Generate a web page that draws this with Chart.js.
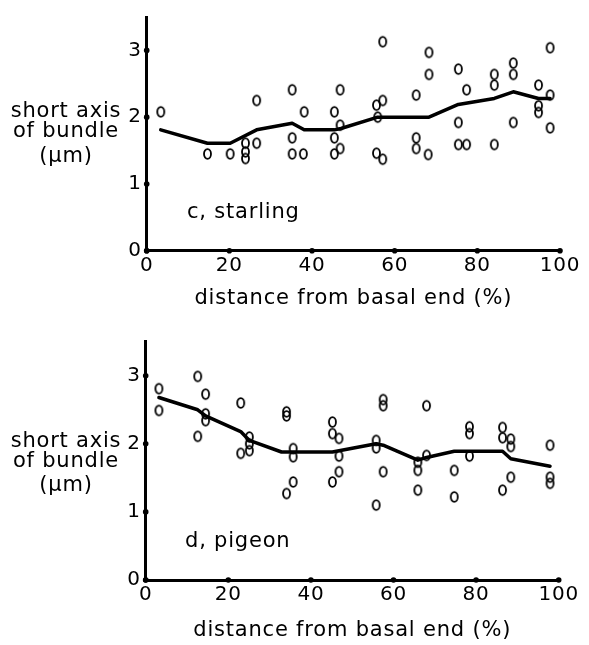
<!DOCTYPE html>
<html>
<head>
<meta charset="utf-8">
<script src="https://cdn.jsdelivr.net/npm/chart.js@4.4.0/dist/chart.umd.min.js"></script>
<style>
    html, body { margin: 0; padding: 0; background: #fff; }
    #wrap { position: relative; width: 589px; height: 645px; }
    canvas { position: absolute; left: 0; }
    #starling-chart { top: 0; }
    #pigeon-chart { top: 322px; }
</style>
</head>
<body>
<div id="wrap">
    <canvas id="starling-chart" width="589" height="322"></canvas>
    <canvas id="pigeon-chart" width="589" height="323"></canvas>
</div>
<script>
// Starling: individual measurements (x = % distance from basal end, y = short axis, um)
const starlingX = [3.4, 14.7, 20.2, 23.9, 23.9, 23.9, 26.6, 26.6, 35.2, 35.2, 35.2, 37.9, 38.1,
    46.8, 45.4, 45.4, 46.8, 46.8, 45.4, 57.1, 57.1, 55.6, 55.9, 55.6, 57.1, 68.3, 68.3, 65.2,
    65.2, 65.2, 68.1, 75.4, 77.4, 75.4, 75.4, 77.4, 84.1, 84.1, 84.1, 88.7, 88.7, 88.7, 94.8,
    94.8, 94.8, 97.6, 97.6, 97.6];
const starlingY = [2.08, 1.45, 1.45, 1.61, 1.48, 1.38, 1.61, 2.25, 2.41, 1.69, 1.45, 1.45, 2.08,
    2.41, 2.08, 1.69, 1.88, 1.53, 1.45, 3.13, 2.25, 2.18, 2.00, 1.46, 1.37, 2.97, 2.64, 2.33,
    1.69, 1.53, 1.44, 2.72, 2.41, 1.92, 1.59, 1.59, 2.64, 2.48, 1.59, 2.81, 2.64, 1.92, 2.48,
    2.17, 2.07, 3.04, 2.33, 1.84];
// Starling: running mean
const starlingMeanX = [3.4, 14.7, 20.2, 26.6, 35.2, 38.1, 45.4, 47.0, 55.9, 68.3, 75.4, 84.1, 88.7, 94.8, 97.6];
const starlingMeanY = [1.81, 1.61, 1.61, 1.81, 1.91, 1.81, 1.81, 1.83, 2.00, 2.00, 2.19, 2.28, 2.38, 2.28, 2.28];

// Pigeon: individual measurements
const pigeonX = [3.2, 3.2, 12.6, 14.5, 14.5, 14.5, 12.6, 23.0, 23.0, 25.1, 25.1, 25.1, 34.1, 34.1,
    35.7, 35.7, 35.7, 34.1, 45.2, 45.2, 46.8, 46.8, 46.8, 45.2, 57.5, 57.5, 55.8, 55.8, 57.5,
    55.8, 68.0, 65.9, 65.9, 68.0, 65.9, 74.7, 74.7, 78.4, 78.4, 78.4, 86.4, 86.4, 88.4, 88.4,
    88.4, 86.4, 97.9, 97.9, 97.9];
const pigeonY = [2.81, 2.49, 2.99, 2.73, 2.44, 2.34, 2.11, 2.60, 1.86, 2.10, 2.00, 1.90, 2.47, 2.41,
    1.93, 1.81, 1.44, 1.27, 2.32, 2.15, 2.08, 1.82, 1.59, 1.44, 2.65, 2.56, 2.05, 1.94, 1.59,
    1.10, 2.56, 1.73, 1.61, 1.83, 1.32, 1.61, 1.22, 2.25, 2.15, 1.82, 2.24, 2.09, 2.07, 1.96,
    1.51, 1.32, 1.98, 1.51, 1.42];
// Pigeon: running mean
const pigeonMeanX = [3.2, 12.6, 14.5, 23.0, 25.1, 32.9, 35.7, 45.2, 55.8, 57.5, 65.9, 68.0, 74.7, 86.4, 88.4, 97.9];
const pigeonMeanY = [2.68, 2.50, 2.41, 2.18, 2.05, 1.88, 1.88, 1.88, 2.00, 1.98, 1.76, 1.80, 1.89, 1.89, 1.78, 1.67];

const xTicks = [0, 20, 40, 60, 80, 100];
const yTicks = [0, 1, 2, 3];
const yTitleLines = ['short axis', 'of bundle', '(\u00b5m)'];
const xTitle = 'distance from basal end (%)';

const FONT = "'DejaVu Sans', sans-serif";
const SPACING = '0.8px';

// hollow oval marker, looks like the little "o" of the plotter
function makeMarker() {
    const c = document.createElement('canvas');
    c.width = 11;
    c.height = 14;
    const g = c.getContext('2d');
    g.strokeStyle = '#000';
    g.lineWidth = 1.8;
    g.beginPath();
    g.ellipse(5.5, 7, 3.5, 4.9, 0, 0, Math.PI * 2);
    g.stroke();
    return c;
}
const marker = makeMarker();

function toPoints(xs, ys) {
    return xs.map((x, i) => ({ x: x, y: ys[i] }));
}

// letter spacing, tick dots and free text (y title, panel name)
const decorPlugin = {
    id: 'decor',
    beforeLayout(chart) {
        chart.ctx.letterSpacing = SPACING;
    },
    beforeDraw(chart) {
        chart.ctx.letterSpacing = SPACING;
    },
    afterDraw(chart, args, opts) {
        const ctx = chart.ctx;
        const xs = chart.scales.x;
        const ys = chart.scales.y;
        ctx.save();
        ctx.fillStyle = '#000';
        xTicks.forEach(v => {
            ctx.beginPath();
            ctx.arc(xs.getPixelForValue(v), ys.bottom, 2.8, 0, Math.PI * 2);
            ctx.fill();
        });
        yTicks.forEach(v => {
            ctx.beginPath();
            ctx.arc(xs.left, ys.getPixelForValue(v), 2.8, 0, Math.PI * 2);
            ctx.fill();
        });

        ctx.letterSpacing = SPACING;
        ctx.font = '21px ' + FONT;
        ctx.textAlign = 'center';
        ctx.textBaseline = 'alphabetic';
        opts.titleY.forEach((y, i) => ctx.fillText(yTitleLines[i], 66, y));

        ctx.textAlign = 'left';
        ctx.fillText(opts.panel, opts.panelX, opts.panelY);
        ctx.restore();
    }
};

function makeChart(id, cfg) {
    const ctx = document.getElementById(id).getContext('2d');
    return new Chart(ctx, {
        type: 'scatter',
        data: {
            datasets: [{
                label: 'mean',
                type: 'line',
                data: toPoints(cfg.meanX, cfg.meanY),
                borderColor: '#000',
                borderWidth: 3.5,
                borderJoinStyle: 'round',
                borderCapStyle: 'round',
                pointRadius: 0,
                tension: 0,
                fill: false
            }, {
                label: 'cells',
                data: toPoints(cfg.x, cfg.y),
                pointStyle: marker,
                pointRadius: 5
            }]
        },
        options: {
            responsive: false,
            animation: false,
            events: [],
            layout: {
                padding: { top: cfg.padTop, right: cfg.padRight, left: 0, bottom: 0 }
            },
            plugins: {
                legend: { display: false },
                tooltip: { enabled: false },
                decor: {
                    titleY: cfg.titleY,
                    panel: cfg.panel,
                    panelX: cfg.panelX,
                    panelY: cfg.panelY
                }
            },
            scales: {
                x: {
                    type: 'linear',
                    min: 0,
                    max: 100,
                    afterFit: scale => { scale.height = cfg.xHeight; },
                    afterBuildTicks: scale => { scale.ticks = xTicks.map(v => ({ value: v })); },
                    grid: { display: false, drawTicks: false },
                    border: { display: true, color: '#000', width: 3 },
                    ticks: {
                        color: '#000',
                        padding: 3,
                        font: { family: FONT, size: 20 }
                    },
                    title: {
                        display: true,
                        text: xTitle,
                        color: '#000',
                        font: { family: FONT, size: 21 },
                        padding: { top: 0, bottom: cfg.xTitlePad }
                    }
                },
                y: {
                    type: 'linear',
                    min: 0,
                    max: 3.5,
                    afterFit: scale => { scale.width = cfg.yWidth; },
                    afterBuildTicks: scale => { scale.ticks = yTicks.map(v => ({ value: v })); },
                    grid: { display: false, drawTicks: false },
                    border: { display: true, color: '#000', width: 3 },
                    ticks: {
                        color: '#000',
                        padding: 5,
                        font: { family: FONT, size: 20 }
                    }
                }
            }
        },
        plugins: [decorPlugin]
    });
}

window.starlingChart = makeChart('starling-chart', {
    x: starlingX, y: starlingY, meanX: starlingMeanX, meanY: starlingMeanY,
    padTop: 11.7, padRight: 29, yWidth: 146.7, xHeight: 71.3, xTitlePad: 11,
    titleY: [117, 137, 161.5],
    panel: 'c, starling', panelX: 187, panelY: 218
});

window.pigeonChart = makeChart('pigeon-chart', {
    x: pigeonX, y: pigeonY, meanX: pigeonMeanX, meanY: pigeonMeanY,
    padTop: 19.7, padRight: 30.3, yWidth: 145.7, xHeight: 65, xTitlePad: 2,
    titleY: [124.7, 144.7, 169],
    panel: 'd, pigeon', panelX: 185, panelY: 225
});
</script>
</body>
</html>
